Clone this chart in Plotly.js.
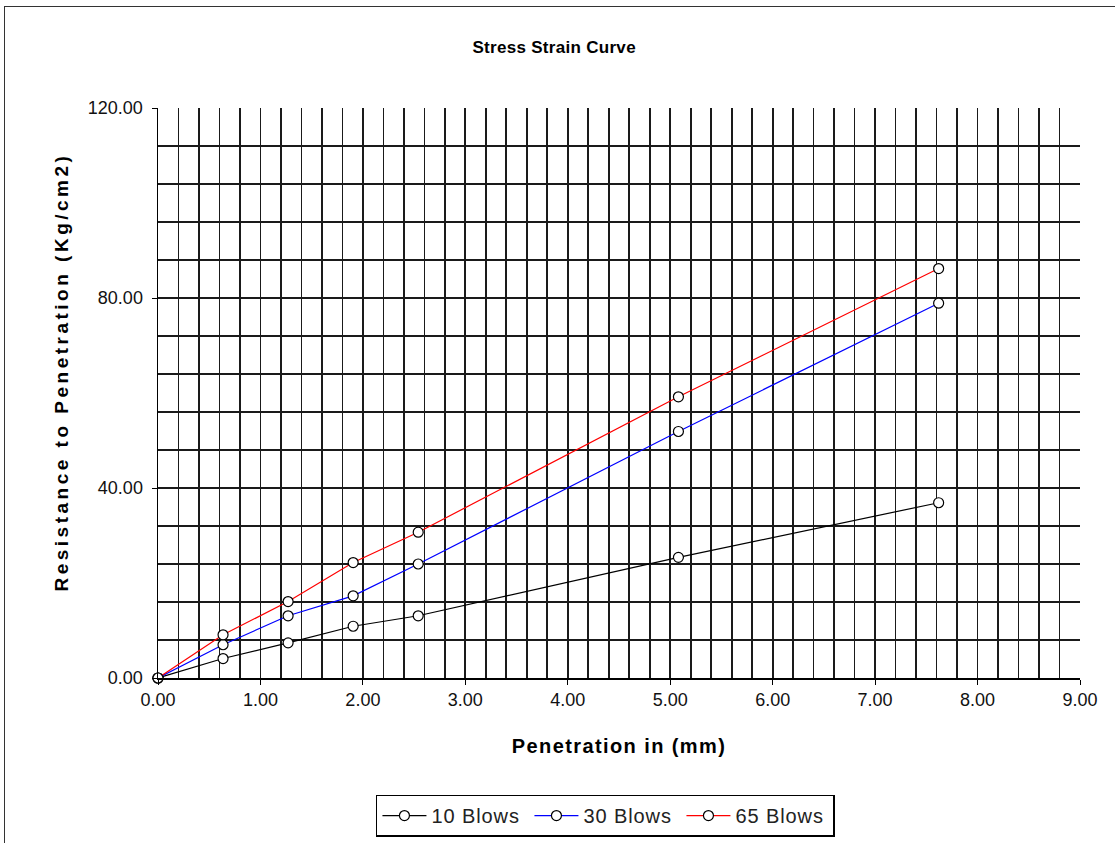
<!DOCTYPE html>
<html>
<head>
<meta charset="utf-8">
<script src="https://cdn.plot.ly/plotly-3.0.1.min.js"></script>
<style>
  html, body { margin: 0; padding: 0; background: #fff; }
  #chart { position: absolute; left: 0; top: 0; width: 1115px; height: 843px; }
  #frame { position: absolute; left: 4px; top: 6px; width: 1200px; height: 1000px;
           border: 1px solid #333; pointer-events: none; }
  #chart .xtitle { letter-spacing: 1.4px; }
  #chart .annotation-text { letter-spacing: 3.5px; }
  #chart .legendtext { letter-spacing: 0.9px; }
  #chart .gtitle { letter-spacing: 0.3px; }
</style>
</head>
<body>
<div id="chart"></div>
<div id="frame"></div>
<script>
const penetration = [0, 0.635, 1.27, 1.905, 2.54, 5.08, 7.62];
const blows10 = [0, 4.1, 7.4, 10.9, 13.1, 25.4, 36.9];
const blows30 = [0, 7.0, 13.1, 17.3, 24.0, 51.9, 78.9];
const blows65 = [0, 9.1, 16.1, 24.3, 30.7, 59.2, 86.2];
const seriesNames = ["10 Blows", "30 Blows", "65 Blows"];
const seriesColors = ["#000000", "#0000ff", "#ff0000"];
const yTitle = "Resistance to Penetration (Kg/cm2)";
const xTitle = "Penetration in (mm)";
const chartTitle = "Stress Strain Curve";

const xMinorGrid = [];
for (let i = 1; i < 45; i++) xMinorGrid.push(+(i * 0.2).toFixed(1));
const yMinorGrid = [];
for (let i = 1; i < 15; i++) yMinorGrid.push(i * 8);

const seriesData = [blows10, blows30, blows65];
const traces = seriesData.map((ys, i) => ({
  x: penetration,
  y: ys,
  name: seriesNames[i],
  type: 'scatter',
  mode: 'lines+markers',
  line: { color: seriesColors[i], width: 1.2 },
  marker: { symbol: 'circle', size: 10, color: '#ffffff', line: { color: '#000000', width: 1.2 } },
  cliponaxis: false
}));

const FONT = 'Liberation Sans, Arial, sans-serif';
const tickFont = { family: FONT, size: 18, color: '#111' };

const layout = {
  width: 1115, height: 843,
  margin: { l: 158, r: 35, t: 108, b: 165 },
  paper_bgcolor: '#ffffff', plot_bgcolor: '#ffffff',
  title: {
    text: '<b>' + chartTitle + '</b>',
    font: { family: FONT, size: 17, color: '#000' },
    x: 0.497, xref: 'container', xanchor: 'center', y: 0.944, yanchor: 'middle'
  },
  xaxis: {
    range: [0, 9], tickmode: 'linear', tick0: 0, dtick: 1, tickformat: '.2f',
    ticks: 'outside', ticklen: 5, tickcolor: '#000', tickwidth: 1,
    showline: true, linecolor: '#000', linewidth: 1.5, showgrid: false, zeroline: false,
    tickfont: tickFont, automargin: false,
    minor: { tickmode: 'array', tickvals: xMinorGrid, showgrid: true, gridcolor: '#1a1a1a', gridwidth: 1.7, ticks: '' },
    title: { text: '<b>' + xTitle + '</b>', font: { family: FONT, size: 20, color: '#000' }, standoff: 30 }
  },
  yaxis: {
    range: [0, 120], tickmode: 'linear', tick0: 0, dtick: 40, tickformat: '.2f',
    ticks: 'outside', ticklen: 5, tickcolor: '#000', tickwidth: 1, ticklabelstandoff: 5,
    showline: true, linecolor: '#000', linewidth: 1.5, showgrid: false, zeroline: false,
    tickfont: tickFont, automargin: false,
    minor: { tickmode: 'array', tickvals: yMinorGrid, showgrid: true, gridcolor: '#1a1a1a', gridwidth: 1.7, ticks: '' }
  },
  annotations: [{
    text: '<b>' + yTitle + '</b>', textangle: -90, showarrow: false,
    xref: 'paper', yref: 'paper', x: -0.104, y: 0.537, xanchor: 'center', yanchor: 'middle',
    font: { family: FONT, size: 19, color: '#000' }
  }],
  showlegend: true,
  legend: {
    orientation: 'h', xref: 'container', yref: 'container',
    x: 0.543, xanchor: 'center', y: 0.0575, yanchor: 'top',
    bordercolor: '#000', borderwidth: 1.5, bgcolor: '#fff',
    font: { family: FONT, size: 20, color: '#222' },
    itemwidth: 44, entrywidth: 93
  }
};

Plotly.newPlot('chart', traces, layout, { staticPlot: true, displayModeBar: false });
</script>
</body>
</html>
